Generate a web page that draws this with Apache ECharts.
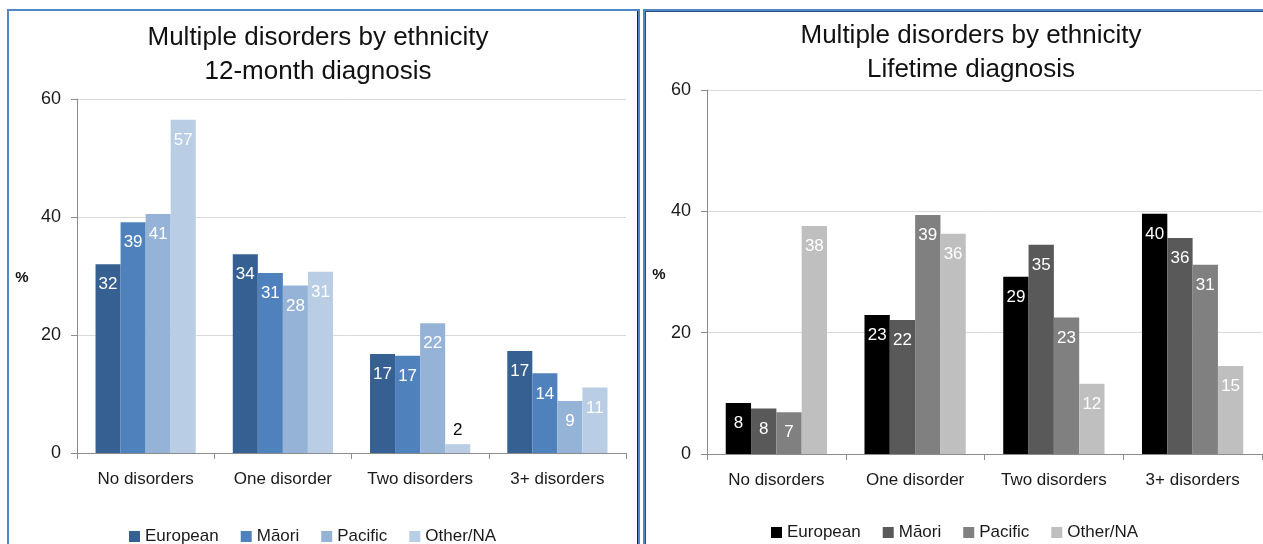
<!DOCTYPE html>
<html>
<head>
<meta charset="utf-8">
<script src="https://cdn.jsdelivr.net/npm/echarts@6/dist/echarts.min.js"></script>
<style>
  html, body { margin: 0; padding: 0; background: #fff; overflow: hidden; }
  body { width: 1263px; height: 544px; position: relative; }
  .chart { position: absolute; top: 0; height: 544px; }
  #left { left: 0; width: 640px; }
  #right { left: 640px; width: 623px; }
  .panel { position: absolute; pointer-events: none; border: 2px solid #4f86c6; box-sizing: border-box; }
  #panelL { left: 7px; top: 9px; width: 633px; height: 560px; box-shadow: inset -1px 0 0 #222; }
  #panelR { left: 643px; top: 9px; width: 640px; height: 560px; box-shadow: inset 1px 1px 0 #2a4f80; }
</style>
</head>
<body>
<div id="left" class="chart"></div>
<div id="right" class="chart"></div>
<div id="panelL" class="panel"></div>
<div id="panelR" class="panel"></div>
<script>
// Categories and groups
const categories = ['No disorders', 'One disorder', 'Two disorders', '3+ disorders'];
const ethnicities = ['European', 'Māori', 'Pacific', 'Other/NA'];
const yTicks = [0, 20, 40, 60];

// 12-month diagnosis, % by ethnicity
const month12European = [32.0, 33.7, 16.8, 17.3];
const month12Maori    = [39.1, 30.5, 16.5, 13.5];
const month12Pacific  = [40.5, 28.4, 22.0, 8.8];
const month12Other    = [56.5, 30.7, 1.5, 11.1];

// Lifetime diagnosis, % by ethnicity
const lifetimeEuropean = [8.4, 22.9, 29.2, 39.6];
const lifetimeMaori    = [7.5, 22.1, 34.5, 35.6];
const lifetimePacific  = [6.9, 39.4, 22.5, 31.2];
const lifetimeOther    = [37.6, 36.3, 11.6, 14.5];

const FONT = '"Liberation Sans", Arial, sans-serif';

function buildOption(cfg) {
  const yMin = yTicks[0], yMax = yTicks[yTicks.length - 1];
  const series = cfg.values.map((vals, i) => ({
    name: ethnicities[i],
    type: 'bar',
    barGap: '0%',
    barCategoryGap: '27%',
    itemStyle: { color: cfg.colors[i] },
    label: {
      show: true,
      position: 'insideTop',
      distance: 12,
      color: '#ffffff',
      fontFamily: FONT,
      fontSize: 17,
      formatter: p => String(Math.round(p.value))
    },
    // very short bars carry their label above the bar in dark text
    data: vals.map(v => v < 5
      ? { value: v, label: { position: 'top', distance: 5, color: '#000000' } }
      : v)
  }));

  return {
    animation: false,
    textStyle: { fontFamily: FONT },
    grid: { left: cfg.grid.left, top: cfg.grid.top, width: cfg.grid.width, height: cfg.grid.height, containLabel: false },
    legend: {
      data: ethnicities,
      left: cfg.legend.left,
      top: cfg.legend.top,
      orient: 'horizontal',
      icon: 'rect',
      itemWidth: 11,
      itemHeight: 11,
      itemGap: 22,
      textStyle: { fontFamily: FONT, fontSize: 17, color: '#1a1a1a', padding: [0, 0, 0, 0] },
      selectedMode: false
    },
    xAxis: {
      type: 'category',
      data: categories,
      axisLine: { show: true, lineStyle: { color: '#8c8c8c', width: 1 } },
      axisTick: { show: true, alignWithLabel: false, length: 6, lineStyle: { color: '#8c8c8c' } },
      axisLabel: { margin: 18, fontFamily: FONT, fontSize: 17, color: '#1a1a1a', interval: 0 },
      splitLine: { show: false }
    },
    yAxis: {
      type: 'value',
      min: yMin,
      max: yMax,
      interval: 20,
      axisLine: { show: true, lineStyle: { color: '#8c8c8c', width: 1 } },
      axisTick: { show: true, length: 6, lineStyle: { color: '#8c8c8c' } },
      axisLabel: { margin: 16, fontFamily: FONT, fontSize: 18, color: '#1a1a1a' },
      splitLine: { show: true, lineStyle: { color: '#d9d9d9', width: 1 } }
    },
    graphic: [
      { type: 'text', x: cfg.title.x, y: cfg.title.y1,
        style: { text: cfg.title.line1, font: '26px ' + FONT, fill: '#111', align: 'center', verticalAlign: 'middle', textAlign: 'center', textVerticalAlign: 'middle' } },
      { type: 'text', x: cfg.title.x, y: cfg.title.y2,
        style: { text: cfg.title.line2, font: '26px ' + FONT, fill: '#111', align: 'center', verticalAlign: 'middle', textAlign: 'center', textVerticalAlign: 'middle' } },
      { type: 'text', x: cfg.unit.x, y: cfg.unit.y,
        style: { text: '%', font: 'bold 15px ' + FONT, fill: '#111', align: 'center', verticalAlign: 'middle', textAlign: 'center', textVerticalAlign: 'middle' } }
    ],
    series: series
  };
}

const leftChart = echarts.init(document.getElementById('left'), null, { renderer: 'canvas' });
leftChart.setOption(buildOption({
  values: [month12European, month12Maori, month12Pacific, month12Other],
  colors: ['#376092', '#4f81bd', '#95b3d7', '#b9cde5'],
  grid: { left: 77, top: 99, width: 549, height: 354 },
  legend: { left: 124, top: 523 },
  title: { x: 318, y1: 38, y2: 72, line1: 'Multiple disorders by ethnicity', line2: '12-month diagnosis' },
  unit: { x: 22, y: 278 }
}));

const rightChart = echarts.init(document.getElementById('right'), null, { renderer: 'canvas' });
rightChart.setOption(buildOption({
  values: [lifetimeEuropean, lifetimeMaori, lifetimePacific, lifetimeOther],
  colors: ['#000000', '#595959', '#808080', '#bfbfbf'],
  grid: { left: 67, top: 90, width: 555, height: 364 },
  legend: { left: 126, top: 519 },
  title: { x: 331, y1: 36, y2: 70, line1: 'Multiple disorders by ethnicity', line2: 'Lifetime diagnosis' },
  unit: { x: 19, y: 275 }
}));
</script>
</body>
</html>
